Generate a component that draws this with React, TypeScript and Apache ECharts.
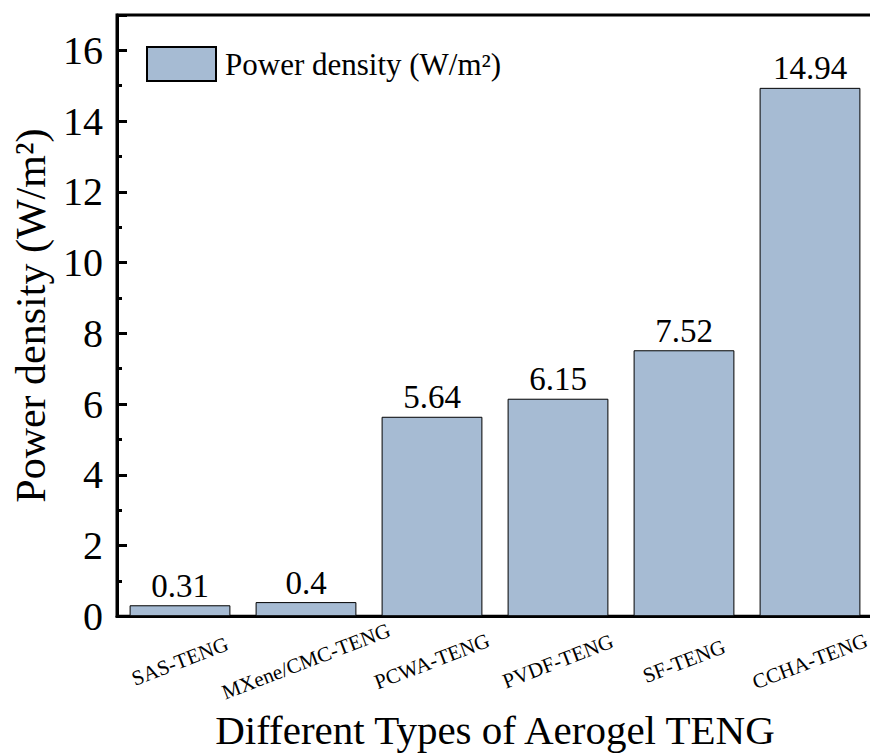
import React, { useEffect, useRef } from "react";
import * as echarts from "echarts";

const categories = ["SAS-TENG", "MXene/CMC-TENG", "PCWA-TENG", "PVDF-TENG", "SF-TENG", "CCHA-TENG"];
const powerDensity = [0.31, 0.4, 5.64, 6.15, 7.52, 14.94];
const seriesName = "Power density (W/m²)";
const xTitle = "Different Types of Aerogel TENG";
const yTitle = "Power density (W/m²)";

const FONT = "Times New Roman";

export default function App() {
  const ref = useRef<HTMLDivElement>(null);

  useEffect(() => {
    if (!ref.current) return;
    const chart = echarts.init(ref.current, null, { renderer: "svg" });
    chart.setOption({
      animation: false,
      backgroundColor: "#ffffff",
      textStyle: { fontFamily: FONT, color: "#000" },
      grid: {
        left: 117,
        top: 15,
        width: 756,
        height: 610,
        show: true,
        borderColor: "#000",
        borderWidth: 3,
        containLabel: false,
      },
      legend: {
        left: 146,
        top: 46,
        itemWidth: 69,
        itemHeight: 34,
        itemGap: 10,
        padding: 0,
        icon: "rect",
        textStyle: { fontFamily: FONT, fontSize: 31, color: "#000", padding: [0, 0, 0, 4] },
        data: [seriesName],
      },
      xAxis: {
        type: "category",
        data: categories,
        name: xTitle,
        nameLocation: "middle",
        nameGap: 65,
        nameTextStyle: { fontFamily: FONT, fontSize: 41, color: "#000" },
        axisLine: { show: true, lineStyle: { color: "#000", width: 3 } },
        axisTick: { show: false },
        axisLabel: {
          rotate: 21,
          align: "center",
          verticalAlign: "middle",
          margin: 45,
          fontFamily: FONT,
          fontSize: 21,
          color: "#000",
          interval: 0,
        },
      },
      yAxis: [
        {
          type: "value",
          min: 0,
          max: 17,
          interval: 2,
          name: yTitle,
          nameLocation: "middle",
          nameGap: 62,
          nameTextStyle: { fontFamily: FONT, fontSize: 42, fontWeight: "normal", color: "#000" },
          axisLine: { show: true, lineStyle: { color: "#000", width: 3 } },
          axisTick: { show: true, inside: true, length: 10, lineStyle: { color: "#000", width: 3 } },
          axisLabel: {
            margin: 14,
            fontFamily: FONT,
            fontSize: 40,
            fontWeight: "normal",
            color: "#000",
            formatter: (v: number) => (v > 16 ? "" : String(v)),
          },
          splitLine: { show: false },
        },
        {
          // minor ticks at every unit
          type: "value",
          min: 0,
          max: 17,
          interval: 1,
          position: "left",
          axisLine: { show: false },
          axisTick: { show: true, inside: true, length: 5, lineStyle: { color: "#000", width: 3 } },
          axisLabel: { show: false },
          splitLine: { show: false },
        },
      ],
      series: [
        {
          name: seriesName,
          type: "bar",
          data: powerDensity,
          barCategoryGap: "20%",
          itemStyle: { color: "#a6bbd3", borderColor: "#000", borderWidth: 1 },
          label: {
            show: true,
            position: "top",
            distance: 3,
            fontFamily: FONT,
            fontSize: 33,
            fontWeight: "normal",
            color: "#000",
          },
        },
      ],
    });
    return () => chart.dispose();
  }, []);

  return (
    <div style={{ position: "absolute", left: 0, top: 0, width: 870, height: 755, overflow: "hidden", background: "#fff" }}>
      <div ref={ref} style={{ width: 890, height: 755 }} />
    </div>
  );
}
